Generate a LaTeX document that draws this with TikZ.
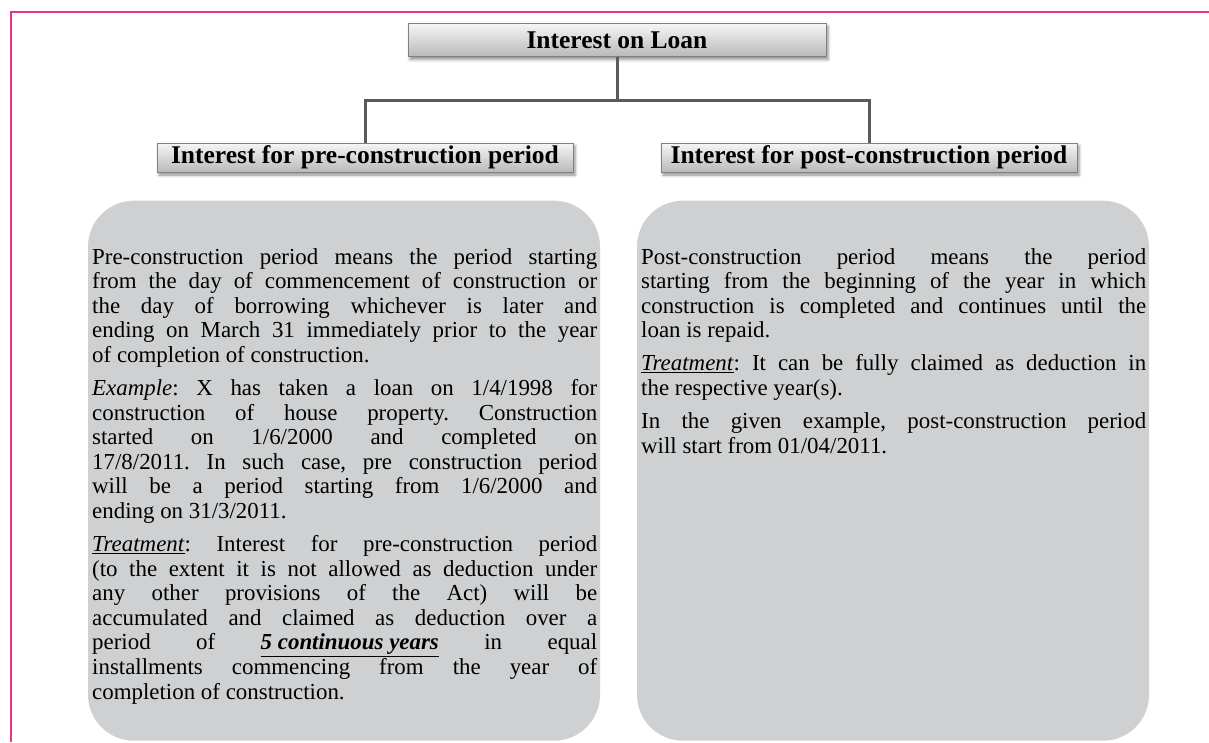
\documentclass[tikz,border=0pt]{standalone}
\usepackage{fontspec}
\setmainfont{Liberation Serif}
\frenchspacing
\definecolor{LoanPink}{HTML}{E8308C}
\definecolor{LoanLine}{HTML}{5A5A5A}
\definecolor{LoanFrame}{HTML}{808080}
\definecolor{LoanTop}{HTML}{F6F6F6}
\definecolor{LoanBottom}{HTML}{B9B9B9}
\definecolor{LoanPanel}{HTML}{CED0D2}
\usetikzlibrary{positioning,shadows.blur}
\newcommand{\paragap}{\par\vspace{8.4pt}}
\tikzset{
  head/.style={draw=LoanFrame, line width=1pt, top color=LoanTop, bottom color=LoanBottom, minimum height=29pt, minimum width=416pt, inner sep=0pt, font=\bfseries\fontsize{25.5}{26}\selectfont, blur shadow={shadow xshift=2pt, shadow yshift=-3pt, shadow blur radius=3pt, shadow opacity=45}},
  panel/.style={fill=LoanPanel, rounded corners=46pt, minimum width=512pt, minimum height=540pt, inner sep=0pt},
  bodytext/.style={text width=505pt, align=justify, inner sep=0pt, anchor=north west, font=\fontsize{22.9}{24.6}\selectfont},
  link/.style={draw=LoanLine, line width=3pt}
}

\begin{document}
\begin{tikzpicture}[x=1pt, y=-1pt, node distance=28pt]
    \useasboundingbox (0,0) rectangle (1209,742);
    \draw[LoanPink, line width=2pt] (1209,12) -- (11,12) -- (11,742);

    \node[head, minimum width=418pt, minimum height=33pt] (loan) at (617,40) {Interest on Loan};
    \node[head] (pre) at (365,157.5) {Interest for pre-construction period};
    \node[head, right=87pt of pre] (post) {Interest for post-construction period};

    \node[panel, below=of pre, xshift=-21pt] (preBox) {};
    \node[panel, below=of post, xshift=24pt] (postBox) {};

    \node[bodytext] (preText) at (92,248) {Pre-construction period means the period starting\linebreak
      from the day of commencement of construction or\linebreak
      the day of borrowing whichever is later and\linebreak
      ending on March 31 immediately prior to the year\linebreak
      of completion of construction.\paragap
      \textit{Example}: X has taken a loan on 1/4/1998 for\linebreak
      construction of house property. Construction\linebreak
      started on 1/6/2000 and completed on\linebreak
      17/8/2011. In such case, pre construction period\linebreak
      will be a period starting from 1/6/2000 and\linebreak
      ending on 31/3/2011.\paragap
      \underline{\textit{Treatment}}: Interest for pre-construction period\linebreak
      (to the extent it is not allowed as deduction under\linebreak
      any other provisions of the Act) will be\linebreak
      accumulated and claimed as deduction over a\linebreak
      period of \underline{\textbf{\textit{5 continuous years}}} in equal\linebreak
      installments commencing from the year of\linebreak
      completion of construction.};
    \node[bodytext] (postText) at (641,248) {Post-construction period means the period\linebreak
      starting from the beginning of the year in which\linebreak
      construction is completed and continues until the\linebreak
      loan is repaid.\paragap
      \underline{\textit{Treatment}}: It can be fully claimed as deduction in\linebreak
      the respective year(s).\paragap
      In the given example, post-construction period\linebreak
      will start from 01/04/2011.};

    \draw[link] (loan.south) -- ++(0,43) coordinate (fork);
    \draw[link] (pre.north) |- (fork) -| (post.north);
  \end{tikzpicture}
\end{document}
